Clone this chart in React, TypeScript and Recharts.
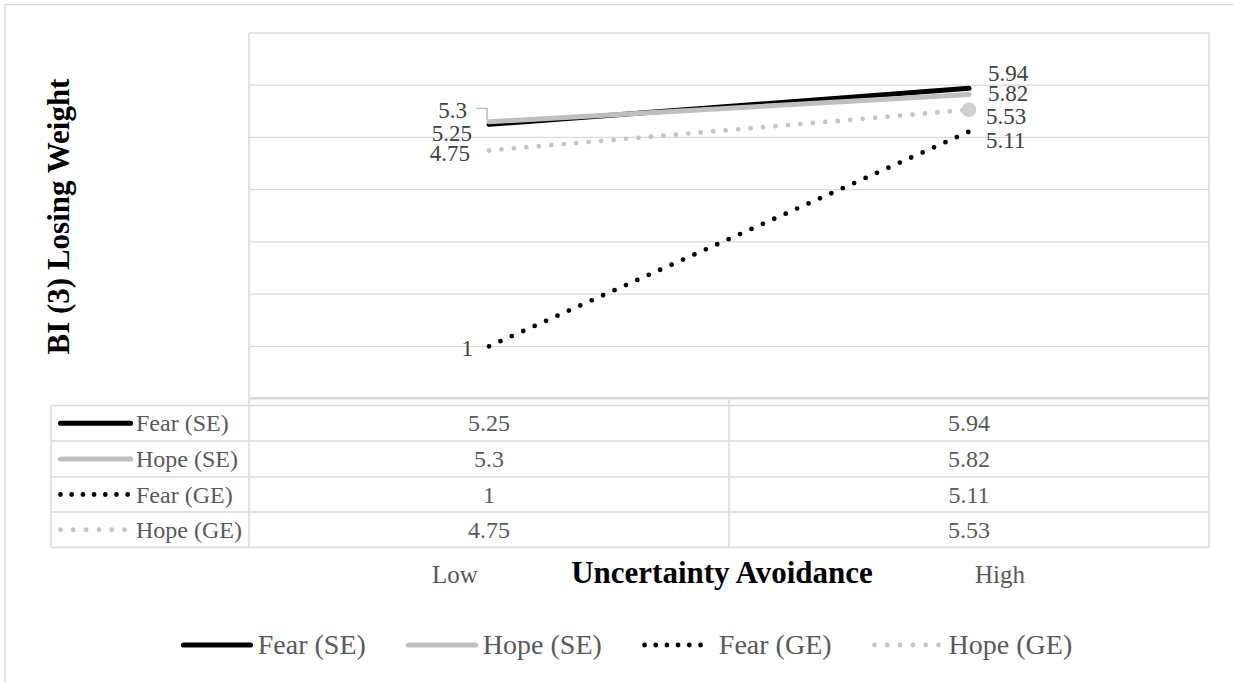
import React from 'react';
import { LineChart, Line, XAxis, YAxis, CartesianGrid, LabelList, Legend } from 'recharts';

// ---- data ----
const categories = ['Low', 'High'];
const fearSE = [5.25, 5.94];
const hopeSE = [5.3, 5.82];
const fearGE = [1, 5.11];
const hopeGE = [4.75, 5.53];
const yTicks = [0, 1, 2, 3, 4, 5, 6, 7];

const xTitle = 'Uncertainty Avoidance';
const yTitle = 'BI (3) Losing Weight';

type Series = {
  key: string;
  name: string;
  values: number[];
  color: string;
  dotted: boolean;
};

const series: Series[] = [
  { key: 'fearSE', name: 'Fear (SE)', values: fearSE, color: '#000000', dotted: false },
  { key: 'hopeSE', name: 'Hope (SE)', values: hopeSE, color: '#bfbfbf', dotted: false },
  { key: 'fearGE', name: 'Fear (GE)', values: fearGE, color: '#000000', dotted: true },
  { key: 'hopeGE', name: 'Hope (GE)', values: hopeGE, color: '#c4c4c4', dotted: true },
];

const data = categories.map((c, i) => {
  const row: Record<string, string | number> = { category: c };
  series.forEach((s) => {
    row[s.key] = s.values[i];
  });
  return row;
});

// ---- layout / style ----
const W = 1234;
const H = 682;
const PLOT_L = 249;
const PLOT_R = 1209;
const PLOT_T = 33;
const PLOT_B = 398.5;
const X_AXIS_H = 30;
const FONT = 'Liberation Serif, DejaVu Serif, Noto Serif, Times New Roman, Times, serif';
const GRID = '#d9d9d9';
const TEXT = '#595959';
const LABEL = '#404040';

const TABLE_L = 51;
const TABLE_ROWS = [405.5, 441, 477, 512, 547.5];
const MID_X = (PLOT_L + PLOT_R) / 2;
const COL_CENTERS = [489, 969];

// label placement relative to each point: [low, high]
type LabelPos = { dx: number; dy: number; anchor: 'start' | 'end'; leader?: boolean };
const labelPos: Record<string, LabelPos[]> = {
  fearSE: [
    { dx: -17, dy: 8.6, anchor: 'end' },
    { dx: 19, dy: -15.4, anchor: 'start' },
  ],
  hopeSE: [
    { dx: -22, dy: -11.8, anchor: 'end', leader: true },
    { dx: 19, dy: -1.7, anchor: 'start' },
  ],
  fearGE: [
    { dx: -16, dy: 1.7, anchor: 'end' },
    { dx: 17, dy: 8.2, anchor: 'start' },
  ],
  hopeGE: [
    { dx: -19, dy: 2.5, anchor: 'end' },
    { dx: 17, dy: 6.2, anchor: 'start' },
  ],
};

const makeLabel = (key: string) => (props: any) => {
  const { x, y, value, index } = props;
  const p = labelPos[key][index];
  const cy = y + p.dy;
  return (
    <g key={`${key}-lbl-${index}`}>
      {p.leader && (
        <path
          d={`M ${x - 13} ${y - 13.5} H ${x - 2} V ${y - 2}`}
          stroke="#a6a6a6"
          strokeWidth={1.2}
          fill="none"
        />
      )}
      <text
        x={x + p.dx}
        y={cy + 7.8}
        textAnchor={p.anchor}
        style={{ fontFamily: FONT }}
        fontSize={23}
        fill={LABEL}
      >
        {value}
      </text>
    </g>
  );
};

// small line sample used by the data table and the legend
const Sample = ({ s, x, y, len }: { s: Series; x: number; y: number; len: number }) => (
  <line
    x1={x + 2.5}
    y1={y}
    x2={x + len - 2.5}
    y2={y}
    stroke={s.color}
    strokeWidth={s.dotted ? 4.8 : 5.2}
    strokeLinecap="round"
    strokeDasharray={s.dotted ? (s.key === 'fearGE' ? '0 11.2' : '0 12.8') : undefined}
  />
);

const LegendContent = () => (
  <div
    style={{
      display: 'flex',
      justifyContent: 'center',
      alignItems: 'center',
      paddingLeft: 19,
      fontFamily: FONT,
      fontSize: 28,
      color: TEXT,
      height: 32,
    }}
  >
    {series.map((s, i) => (
      <div key={s.key} style={{ display: 'flex', alignItems: 'center', marginLeft: i ? 40 : 0 }}>
        <svg width={72} height={12} style={{ display: 'block' }}>
          <Sample s={s} x={0} y={6} len={72} />
        </svg>
        <span style={{ marginLeft: 5, lineHeight: '32px', whiteSpace: 'nowrap' }}>{s.name}</span>
      </div>
    ))}
  </div>
);

const CategoryTick = (props: any) => {
  const { x, y, payload, index } = props;
  const shift = [-34, 31];
  return (
    <text
      x={x + shift[index]}
      y={y + 184.5}
      textAnchor="middle"
      style={{ fontFamily: FONT }}
      fontSize={25}
      fill={TEXT}
    >
      {payload.value}
    </text>
  );
};

// frame, plot borders, titles and the data table beneath the plot
const ChartDecor = () => {
  const lineProps = { stroke: GRID, strokeWidth: 1.5 };
  return (
    <g style={{ fontFamily: FONT }}>
      <rect x={5} y={4.5} width={W + 40} height={H + 40} fill="none" stroke={GRID} strokeWidth={1.3} />
      {/* plot bottom + table header strip */}
      <line x1={PLOT_L} y1={398.3} x2={PLOT_R} y2={398.3} stroke={GRID} strokeWidth={2.4} />
      {TABLE_ROWS.map((ry, i) => (
        <line key={`h${i}`} x1={TABLE_L} y1={ry} x2={PLOT_R} y2={ry} {...lineProps} />
      ))}
      <line x1={TABLE_L} y1={TABLE_ROWS[0]} x2={TABLE_L} y2={TABLE_ROWS[4]} {...lineProps} />
      <line x1={PLOT_L} y1={PLOT_T} x2={PLOT_L} y2={TABLE_ROWS[4]} {...lineProps} />
      <line x1={MID_X} y1={398} x2={MID_X} y2={TABLE_ROWS[4]} {...lineProps} />
      <line x1={PLOT_R} y1={PLOT_T} x2={PLOT_R} y2={TABLE_ROWS[4]} {...lineProps} />
      {series.map((s, r) => {
        const cy = (TABLE_ROWS[r] + TABLE_ROWS[r + 1]) / 2;
        return (
          <g key={`row-${s.key}`}>
            <Sample s={s} x={58} y={cy} len={75} />
            <text x={136} y={cy + 8} style={{ fontFamily: FONT }} fontSize={24} fill={TEXT}>
              {s.name}
            </text>
            {s.values.map((v, c) => (
              <text
                key={`v${c}`}
                x={COL_CENTERS[c]}
                y={cy + 8}
                textAnchor="middle"
                style={{ fontFamily: FONT }}
                fontSize={24}
                fill={TEXT}
              >
                {v}
              </text>
            ))}
          </g>
        );
      })}
      <text
        x={722}
        y={583}
        textAnchor="middle"
        style={{ fontFamily: FONT }}
        fontSize={31}
        fontWeight="bold"
        fill="#000"
      >
        {xTitle}
      </text>
      <text
        x={69}
        y={216.5}
        transform="rotate(-90 69 216.5)"
        textAnchor="middle"
        style={{ fontFamily: FONT }}
        fontSize={31}
        fontWeight="bold"
        fill="#000"
      >
        {yTitle}
      </text>
    </g>
  );
};

const hopeGEDot = (props: any) => {
  const { cx, cy, index } = props;
  if (index !== 1) return <g key={`d${index}`} />;
  return <circle key={`d${index}`} cx={cx} cy={cy} r={7.3} fill="#d0d0d0" stroke="none" />;
};

export default function App() {
  return (
    <div
      style={{
        position: 'absolute',
        left: 0,
        top: 0,
        width: W,
        height: H,
        background: '#fff',
        fontFamily: FONT,
      }}
    >
      <LineChart
        width={W}
        height={H}
        data={data}
        margin={{ top: PLOT_T, left: PLOT_L, right: W - PLOT_R, bottom: H - PLOT_B - X_AXIS_H }}
        style={{ fontFamily: FONT }}
      >
        <CartesianGrid vertical={false} stroke={GRID} strokeWidth={1.3} />
        <XAxis
          dataKey="category"
          height={X_AXIS_H}
          padding={{ left: 240, right: 240 }}
          axisLine={false}
          tickLine={false}
          tickSize={0}
          tickMargin={0}
          interval={0}
          tick={<CategoryTick />}
        />
        <YAxis hide type="number" domain={[0, 7]} ticks={yTicks} />
        <ChartDecor />
        {series.map((s) => (
          <Line
            key={s.key}
            dataKey={s.key}
            name={s.name}
            type="linear"
            stroke={s.color}
            strokeWidth={s.dotted ? 4.8 : 5}
            strokeLinecap="round"
            strokeDasharray={s.dotted ? '0 12.5' : undefined}
            dot={s.key === 'hopeGE' ? hopeGEDot : false}
            activeDot={false}
            isAnimationActive={false}
          >
            <LabelList dataKey={s.key} content={makeLabel(s.key)} />
          </Line>
        ))}
        <Legend
          verticalAlign="middle"
          align="center"
          layout="horizontal"
          content={<LegendContent />}
          wrapperStyle={{ left: 0, top: 629, width: W, height: 32 }}
        />
      </LineChart>
    </div>
  );
}
